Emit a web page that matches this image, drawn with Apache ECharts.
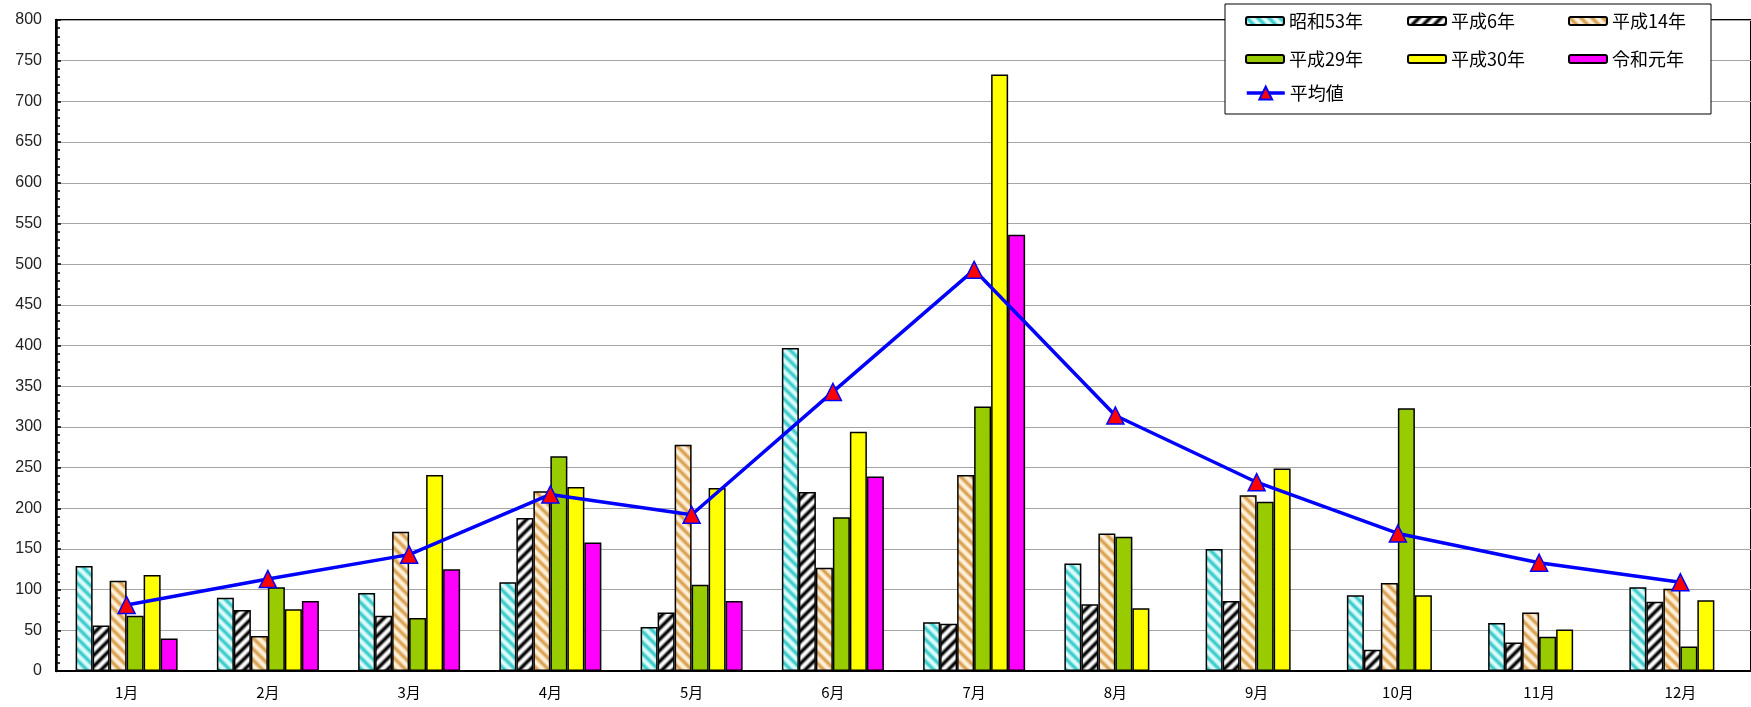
<!DOCTYPE html>
<html><head><meta charset="utf-8">
<script src="https://cdn.jsdelivr.net/npm/echarts@6/dist/echarts.min.js"></script>
<style>html,body{margin:0;padding:0;background:#fff}#c{width:1751px;height:707px}</style>
</head><body><div id="c"></div>
<script>
var months = ['1月','2月','3月','4月','5月','6月','7月','8月','9月','10月','11月','12月'];
var s53 = [129, 90, 96, 109, 54, 397, 60, 132, 150, 93, 59, 103];
var h6  = [56, 75, 68, 188, 72, 220, 58, 82, 86, 26, 35, 85];
var h14 = [111, 43, 171, 221, 278, 127, 241, 169, 216, 108, 72, 101];
var h29 = [68, 103, 65, 264, 106, 189, 325, 165, 208, 323, 42, 30];
var h30 = [118, 76, 241, 226, 225, 294, 733, 77, 249, 93, 51, 87];
var r1  = [40, 86, 125, 158, 86, 239, 536, null, null, null, null, null];
var avg = [81, 113, 143, 217, 192, 343, 493, 314, 232, 169, 133, 109];
var yTicks = {min: 0, max: 800, step: 50};

function hex(c){return [parseInt(c.substr(1,2),16),parseInt(c.substr(3,2),16),parseInt(c.substr(5,2),16)];}
function stripe(c1, c2, dir, p){
  var cv = document.createElement('canvas'); cv.width = p; cv.height = p;
  var ctx = cv.getContext('2d'); var img = ctx.createImageData(p, p);
  var a = hex(c1), b = hex(c2);
  for (var y = 0; y < p; y++) for (var x = 0; x < p; x++) {
    var k = dir > 0 ? (x + y) : (x - y + p);
    var t = (k % p) / p;
    var v = Math.pow(0.5 + 0.5 * Math.cos(2 * Math.PI * t), 1.3);
    var i = (y * p + x) * 4;
    img.data[i] = a[0] + (b[0] - a[0]) * v;
    img.data[i+1] = a[1] + (b[1] - a[1]) * v;
    img.data[i+2] = a[2] + (b[2] - a[2]) * v;
    img.data[i+3] = 255;
  }
  ctx.putImageData(img, 0, 0);
  return {image: cv, repeat: 'repeat'};
}
var pat53 = stripe('#E0FCFC', '#38CACA', -1, 11);
var pat6  = stripe('#FFFFFF', '#000000', 1, 11);
var pat14 = stripe('#FFF2DC', '#D9A050', -1, 11);

function bar(name, data, color){
  return {name: name, type: 'bar', data: data, barWidth: 17, barGap: '0%',
    itemStyle: {color: color, borderColor: '#000', borderWidth: 1.5}, z: 2, emphasis: {disabled: true}};
}
function lg(left, top, data, extra){
  var o = {orient: 'vertical', left: left, top: top, data: data, itemWidth: 38, itemHeight: 8, itemGap: 20, itemTextGap: 6,
    textStyle: {fontSize: 18, color: '#000', fontFamily: 'Noto Sans CJK JP'}, z: 10, padding: 0, selectedMode: false};
  return Object.assign(o, extra || {});
}

var chart = echarts.init(document.getElementById('c'));
chart.setOption({
  animation: false,
  backgroundColor: '#fff',
  grid: {left: 56, right: -15, top: 20, bottom: 36, show: true, borderColor: '#000', borderWidth: 2, backgroundColor: 'transparent'},
  graphic: [{type: 'rect', shape: {x: 1225, y: 4, width: 486, height: 110}, style: {fill: '#fff', stroke: '#000', lineWidth: 1}, z: 8}],
  legend: [
    lg(1245, 12, ['昭和53年', '平成29年']),
    lg(1407, 12, ['平成6年', '平成30年']),
    lg(1568, 12, ['平成14年', '令和元年']),
    lg(1245, 84, [{name: '平均値', lineStyle: {width: 3.5, color: '#0000FF'}}], {itemHeight: 16})
  ],
  xAxis: {type: 'category', data: months,
    axisLine: {lineStyle: {color: '#000', width: 2}}, axisTick: {show: false},
    axisLabel: {fontSize: 15, color: '#000', margin: 14, fontFamily: 'Noto Sans CJK JP'}},
  yAxis: {type: 'value', min: yTicks.min, max: yTicks.max, interval: yTicks.step,
    axisLine: {show: true, lineStyle: {color: '#000', width: 2.5}},
    axisTick: {show: true, inside: true, length: 5, lineStyle: {color: '#000', width: 1.5}},
    minorTick: {show: true, splitNumber: 5, length: 4, lineStyle: {color: '#000', width: 1.5}},
    splitLine: {lineStyle: {color: '#A6A6A6', width: 1.2}},
    axisLabel: {fontSize: 16, color: '#222', margin: 14, fontFamily: 'Liberation Sans'}},
  series: [
    bar('昭和53年', s53, pat53),
    bar('平成6年', h6, pat6),
    bar('平成14年', h14, pat14),
    bar('平成29年', h29, '#99CC00'),
    bar('平成30年', h30, '#FFFF00'),
    bar('令和元年', r1, '#FF00FF'),
    {name: '平均値', type: 'line', data: avg, symbol: 'triangle', symbolSize: 17, z: 5,
      lineStyle: {color: '#0000FF', width: 3.5}, itemStyle: {color: '#FF0000', borderColor: '#0000FF', borderWidth: 1.5},
      emphasis: {disabled: true}}
  ]
});
</script></body></html>
